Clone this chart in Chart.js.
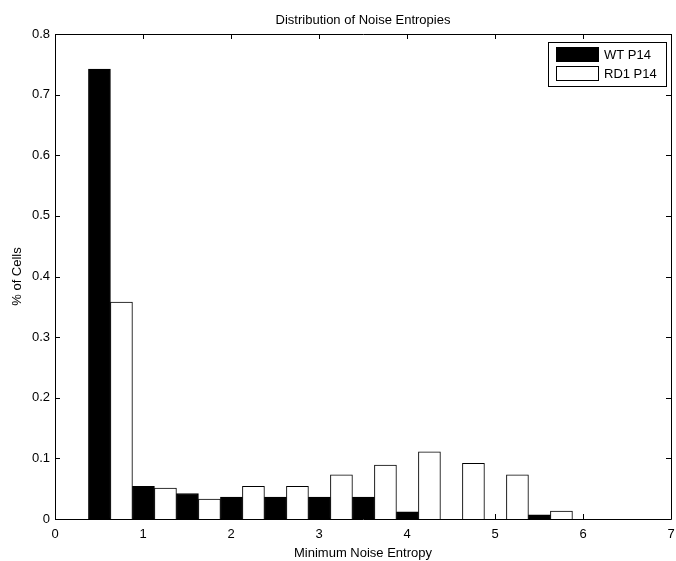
<!DOCTYPE html>
<html lang="en">
<head>
    <meta charset="UTF-8">
    <script src="https://cdn.jsdelivr.net/npm/chart.js"></script>
    <title>Distribution of Noise Entropies</title>
    <style>
        html, body { margin: 0; padding: 0; background: #fff; }
        #wrap { width: 676px; height: 561px; }
    </style>
</head>
<body>

<div id="wrap">
    <canvas id="noiseChart" width="676" height="561"></canvas>
</div>

<script>
// bin centres on the x axis
const binCenters = [0.63, 1.13, 1.63, 2.13, 2.63, 3.13, 3.63, 4.13, 4.63, 5.13, 5.63];
// fraction of cells in each bin
const wtP14 = [0.742, 0.054, 0.042, 0.036, 0.036, 0.036, 0.036, 0.012, 0, 0, 0.007];
const rd1P14 = [0.358, 0.051, 0.033, 0.054, 0.054, 0.073, 0.089, 0.111, 0.092, 0.073, 0.013];
const seriesNames = ['WT P14', 'RD1 P14'];
const xTicks = [0, 1, 2, 3, 4, 5, 6, 7];
const yTicks = [0, 0.1, 0.2, 0.3, 0.4, 0.5, 0.6, 0.7, 0.8];

const font = "'Liberation Sans', Arial, Helvetica, sans-serif";

function toPoints(vals) {
    return vals.map((v, i) => ({ x: binCenters[i], y: v }));
}

// matlab style box, inward ticks and boxed legend
const boxPlugin = {
    id: 'matlabBox',
    afterDatasetsDraw(chart) {
        const ctx = chart.ctx;
        const a = chart.chartArea;
        const xs = chart.scales.x;
        const ys = chart.scales.y;
        const t = 5;
        ctx.save();
        ctx.strokeStyle = '#000';
        ctx.lineWidth = 1;
        ctx.beginPath();
        ctx.rect(Math.round(a.left) + 0.5, Math.round(a.top) + 0.5,
                 Math.round(a.right - a.left), Math.round(a.bottom - a.top));
        xTicks.forEach(v => {
            const px = Math.round(xs.getPixelForValue(v)) + 0.5;
            ctx.moveTo(px, a.bottom);
            ctx.lineTo(px, a.bottom - t);
            ctx.moveTo(px, a.top);
            ctx.lineTo(px, a.top + t);
        });
        yTicks.forEach(v => {
            const py = Math.round(ys.getPixelForValue(v)) + 0.5;
            ctx.moveTo(a.left, py);
            ctx.lineTo(a.left + t, py);
            ctx.moveTo(a.right, py);
            ctx.lineTo(a.right - t, py);
        });
        ctx.stroke();

        // legend
        const lx = 548, ly = 42, lw = 118, lh = 44;
        ctx.fillStyle = '#fff';
        ctx.fillRect(lx, ly, lw, lh);
        ctx.strokeRect(lx + 0.5, ly + 0.5, lw, lh);
        ctx.font = '13px ' + font;
        ctx.textBaseline = 'middle';
        chart.data.datasets.forEach((ds, i) => {
            const sy = ly + 5 + i * 19;
            ctx.fillStyle = ds.backgroundColor;
            ctx.fillRect(lx + 8, sy, 42, 14);
            ctx.strokeStyle = ds.borderColor;
            ctx.strokeRect(lx + 8.5, sy + 0.5, 42, 14);
            ctx.fillStyle = '#000';
            ctx.fillText(ds.label, lx + 56, sy + 8);
        });
        ctx.restore();
    }
};

const ctx = document.getElementById('noiseChart').getContext('2d');
new Chart(ctx, {
    type: 'bar',
    data: {
        datasets: [
            {
                label: seriesNames[0],
                data: toPoints(wtP14),
                backgroundColor: '#000',
                borderColor: '#000',
                borderWidth: 1,
                borderSkipped: false
            },
            {
                label: seriesNames[1],
                data: toPoints(rd1P14),
                backgroundColor: '#fff',
                borderColor: '#000',
                borderWidth: 1,
                borderSkipped: 'start'
            }
        ]
    },
    options: {
        responsive: false,
        animation: false,
        layout: { padding: { left: 0, right: 5, top: 0, bottom: 0 } },
        datasets: { bar: { categoryPercentage: 1, barPercentage: 1 } },
        plugins: {
            legend: { display: false },
            tooltip: { enabled: false },
            title: {
                display: true,
                text: 'Distribution of Noise Entropies',
                fullSize: false,
                color: '#000',
                font: { family: font, size: 13, weight: 'normal' },
                padding: { top: 13, bottom: 5.4 }
            }
        },
        scales: {
            x: {
                type: 'linear',
                min: 0,
                max: 7,
                offset: false,
                afterBuildTicks: s => { s.ticks = xTicks.map(v => ({ value: v })); },
                afterFit: s => { s.height = 42; s.paddingLeft = 0; s.paddingRight = 0; },
                grid: { display: false, drawTicks: false, offset: false },
                border: { display: false },
                ticks: { color: '#000', padding: 8, maxRotation: 0, font: { family: font, size: 13 } },
                title: {
                    display: true,
                    text: 'Minimum Noise Entropy',
                    color: '#000',
                    font: { family: font, size: 13 },
                    padding: { top: 0, bottom: 0 }
                }
            },
            y: {
                min: 0,
                max: 0.8,
                afterBuildTicks: s => { s.ticks = yTicks.map(v => ({ value: v })); },
                afterFit: s => { s.width = 55; },
                grid: { display: false, drawTicks: false },
                border: { display: false },
                ticks: { color: '#000', padding: 5, font: { family: font, size: 13 } },
                title: {
                    display: true,
                    text: '% of Cells',
                    color: '#000',
                    font: { family: font, size: 13 },
                    padding: { top: 10, bottom: 0 }
                }
            }
        }
    },
    plugins: [boxPlugin]
});
</script>

</body>
</html>
